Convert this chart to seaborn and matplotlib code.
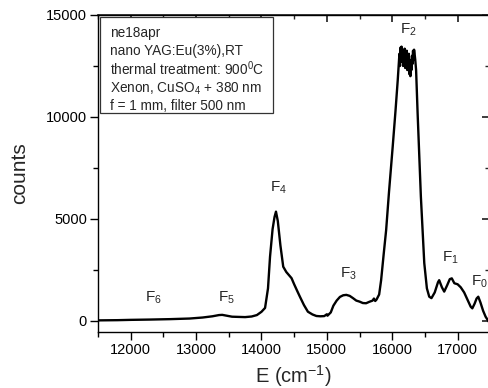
import numpy as np
import pandas as pd
import matplotlib
matplotlib.use("Agg")
import matplotlib.pyplot as plt
import seaborn as sns
from matplotlib.patches import Rectangle
from matplotlib.ticker import MultipleLocator

energy = [11500, 11800, 12000, 12300, 12600, 12900, 13100, 13250, 13350, 13400,
          13450, 13550, 13650, 13750, 13850, 13930, 14000, 14055, 14100, 14131,
          14170, 14200, 14222, 14250, 14290, 14333, 14380, 14420, 14460, 14500,
          14550, 14588, 14650, 14710, 14780, 14840, 14900, 14960, 15000, 15010,
          15060, 15100, 15150, 15200, 15250, 15298, 15350, 15400, 15450, 15500,
          15550, 15600, 15650, 15700, 15720, 15740, 15760, 15800, 15830, 15870,
          15907, 15950, 16007, 16050, 16084, 16100, 16110, 16118, 16126, 16134,
          16142, 16150, 16158, 16166, 16174, 16182, 16190, 16198, 16206, 16214,
          16222, 16230, 16238, 16246, 16254, 16262, 16270, 16278, 16286, 16294,
          16302, 16310, 16318, 16326, 16334, 16342, 16352, 16365,
          16388, 16438, 16490, 16530, 16566, 16600, 16650, 16700, 16718,
          16760, 16795, 16840, 16880, 16911, 16950, 17000, 17048, 17100, 17150,
          17200, 17225, 17260, 17290, 17316, 17350, 17390, 17428, 17480]
counts = [30, 40, 55, 70, 90, 120, 170, 230, 290, 300,
          270, 210, 200, 190, 220, 290, 450, 640, 1600, 3150,
          4500, 5100, 5360, 4900, 3700, 2660, 2400, 2250, 2100, 1800,
          1450, 1190, 780, 455, 320, 245, 230, 240, 330, 260,
          420, 750, 1000, 1180, 1260, 1280, 1230, 1120, 1000, 950,
          880, 870, 940, 1000, 1100, 980, 1050, 1300, 2000, 3300,
          4460, 6300, 8540, 10300, 11800, 12600, 13100, 12500, 13400, 12800,
          13450, 12700, 13300, 12500, 13200, 12900, 13350, 12400, 13000, 12600,
          13250, 12300, 12900, 12500, 13100, 12100, 12800, 12000, 12700, 12300,
          13000, 12600, 13250, 12800, 13300, 13100, 12800, 12300,
          10200, 6100, 2840, 1600, 1190, 1120, 1400, 1900, 2000,
          1650, 1440, 1750, 2050, 2090, 1850, 1800, 1650, 1400, 1050,
          700, 620, 850, 1100, 1190, 900, 500, 210, -50]

peak_labels = ["6", "5", "4", "3", "2", "1", "0"]
peak_label_x = [12350, 13460, 14268, 15333, 16247, 16886, 17335]
peak_label_y = [1127, 1127, 6520, 2300, 14260, 3090, 1920]

info_lines = ["ne18apr", "nano YAG:Eu(3%),RT",
              r"thermal treatment: 900$^0$C",
              r"Xenon, CuSO$_4$ + 380 nm",
              "f = 1 mm, filter 500 nm"]

sns.set_theme(style="white")
plt.rcParams["font.family"] = ["Liberation Sans", "DejaVu Sans"]
plt.rcParams["mathtext.default"] = "regular"

df = pd.DataFrame({"E": energy, "counts": counts})

fig = plt.figure(figsize=(4.89, 3.88), dpi=100)
ax = fig.add_axes([98/489, 1-332/388, 391/489, 317/388])
sns.lineplot(data=df, x="E", y="counts", color="black", lw=1.7, ax=ax,
             sort=False, estimator=None)

ax.set_xlim(11500, 17480)
ax.set_ylim(-540, 15000)
ax.xaxis.set_major_locator(MultipleLocator(1000))
ax.xaxis.set_minor_locator(MultipleLocator(500))
ax.yaxis.set_major_locator(MultipleLocator(5000))
ax.yaxis.set_minor_locator(MultipleLocator(2500))
for s in ax.spines.values():
    s.set_color("black")
    s.set_linewidth(1.0)
    s.set_visible(True)
ax.tick_params(which="major", direction="out", length=6, width=1, colors="black",
               labelsize=10.5, bottom=True, left=True, pad=2)
ax.tick_params(which="minor", direction="out", length=3.5, width=1, colors="black",
               bottom=True, left=True)

secx = ax.secondary_xaxis("top")
secx.xaxis.set_major_locator(MultipleLocator(1000))
secx.xaxis.set_minor_locator(MultipleLocator(500))
secx.tick_params(which="major", direction="in", length=5, labeltop=False)
secx.tick_params(which="minor", direction="in", length=3)
secy = ax.secondary_yaxis("right")
secy.yaxis.set_major_locator(MultipleLocator(5000))
secy.yaxis.set_minor_locator(MultipleLocator(2500))
secy.tick_params(which="major", direction="in", length=5, labelright=False)
secy.tick_params(which="minor", direction="in", length=3)

ax.set_xlabel(r"E (cm$^{-1}$)", fontsize=14.5, labelpad=4)
ax.set_ylabel("counts", fontsize=15, labelpad=12)

for lab, px, py in zip(peak_labels, peak_label_x, peak_label_y):
    ax.text(px, py, "F$_{%s}$" % lab, ha="center", va="center", fontsize=11)

ax.add_patch(Rectangle((0.005, 0.691), 0.443, 0.303, transform=ax.transAxes,
                       fill=True, facecolor="white", edgecolor="#333333", lw=0.9,
                       zorder=5))
ys = [0.943, 0.888, 0.830, 0.768, 0.712]
for t, yy in zip(info_lines, ys):
    ax.text(0.031, yy, t, transform=ax.transAxes, fontsize=9.8, va="center",
            ha="left", zorder=6)

fig.savefig("out.png", dpi=100)
